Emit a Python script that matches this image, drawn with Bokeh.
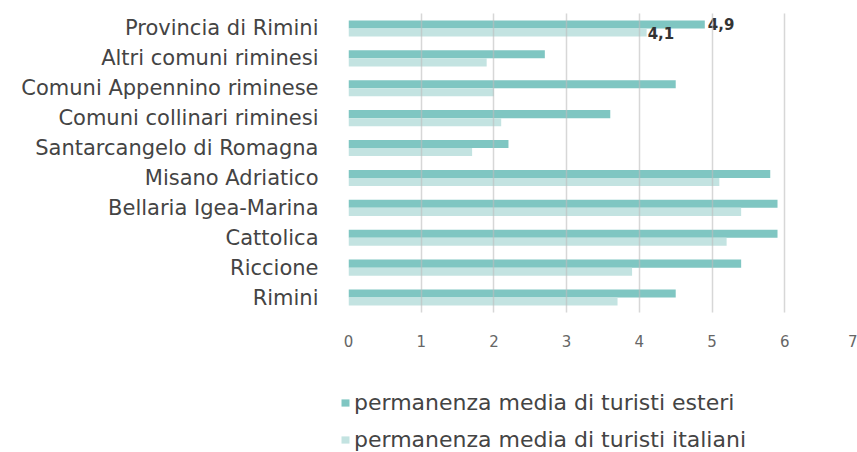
from bokeh.plotting import figure
from bokeh.layouts import column
from bokeh.models import ColumnDataSource, FactorRange, Legend, LegendItem, Range1d, FixedTicker
from bokeh.transform import dodge
from bokeh.core.properties import value
from bokeh.embed import file_html
from bokeh.resources import INLINE

categories = ["Provincia di Rimini", "Altri comuni riminesi", "Comuni Appennino riminese",
              "Comuni collinari riminesi", "Santarcangelo di Romagna", "Misano Adriatico",
              "Bellaria Igea-Marina", "Cattolica", "Riccione", "Rimini"]
esteri = [4.9, 2.7, 4.5, 3.6, 2.2, 5.8, 5.9, 5.9, 5.4, 4.5]
italiani = [4.1, 1.9, 2.0, 2.1, 1.7, 5.1, 5.4, 5.2, 3.9, 3.7]
x_ticks = [0, 1, 2, 3, 4, 5, 6, 7]
series_names = ["permanenza media di turisti esteri", "permanenza media di turisti italiani"]
labelled_category = "Provincia di Rimini"

FONT = "DejaVu Sans"
C_EST = "#7fc6c2"
C_ITA = "#c3e3e1"


def fmt(v):
    return f"{v:.1f}".replace(".", ",")


src = ColumnDataSource(dict(cat=categories, est=esteri, ita=italiani))

p = figure(frame_width=509, frame_height=299, output_backend="svg", toolbar_location=None,
           x_range=Range1d(0, 7.0), y_range=FactorRange(factors=list(reversed(categories))),
           min_border_left=348, min_border_top=13, min_border_bottom=40, min_border_right=0)
p.outline_line_color = None
p.background_fill_color = "white"
p.border_fill_color = "white"

p.hbar(y=dodge("cat", 0.135, range=p.y_range), right="est", left=0, height=0.27,
       fill_color=C_EST, line_color=None, source=src)
p.hbar(y=dodge("cat", -0.135, range=p.y_range), right="ita", left=0, height=0.27,
       fill_color=C_ITA, line_color=None, source=src)

i = categories.index(labelled_category)
p.text(x="x", y=dodge("cat", 0.16, range=p.y_range), text="txt",
       source=ColumnDataSource(dict(cat=[labelled_category], x=[esteri[i]], txt=[fmt(esteri[i])])),
       x_offset=3, text_baseline="middle", text_align="left", text_font=value(FONT),
       text_font_size="15px", text_font_style="bold", text_color="#333333")
p.text(x="x", y=dodge("cat", -0.15, range=p.y_range), text="txt",
       source=ColumnDataSource(dict(cat=[labelled_category], x=[italiani[i]], txt=[fmt(italiani[i])])),
       x_offset=1, text_baseline="middle", text_align="left", text_font=value(FONT),
       text_font_size="15px", text_font_style="bold", text_color="#333333")

p.xgrid.grid_line_color = "#bdbdbd"
p.xgrid.grid_line_alpha = 0.6
p.xgrid.grid_line_width = 1.5
p.xgrid.level = "overlay"
p.ygrid.grid_line_color = None

p.xaxis.ticker = FixedTicker(ticks=x_ticks)
p.xaxis.axis_line_color = None
p.xaxis.major_tick_line_color = None
p.xaxis.minor_tick_line_color = None
p.xaxis.major_label_text_font = FONT
p.xaxis.major_label_text_font_size = "15px"
p.xaxis.major_label_text_color = "#666666"
p.xaxis.major_label_standoff = 16

p.yaxis.axis_line_color = None
p.yaxis.major_tick_line_color = None
p.yaxis.minor_tick_line_color = None
p.yaxis.major_tick_out = 0
p.yaxis.major_label_text_font = FONT
p.yaxis.major_label_text_font_size = "21px"
p.yaxis.major_label_text_color = "#444444"
p.yaxis.major_label_standoff = 30

# legend strip below the chart (hidden proxy renderers of the same series)
lg = figure(frame_width=857, frame_height=100, output_backend="svg", toolbar_location=None,
            x_range=Range1d(0, 7.0), y_range=FactorRange(factors=list(reversed(categories))),
            x_axis_location=None, y_axis_location=None,
            min_border_left=0, min_border_right=0, min_border_top=0, min_border_bottom=0)
lg.outline_line_color = None
lg.xgrid.visible = False
lg.ygrid.visible = False
k_est = lg.hbar(y="cat", right="est", left=0, height=0.27, fill_color=C_EST, line_color=None,
                source=src, visible=False)
k_ita = lg.hbar(y="cat", right="ita", left=0, height=0.27, fill_color=C_ITA, line_color=None,
                source=src, visible=False)

legend = Legend(items=[LegendItem(label=series_names[0], renderers=[k_est]),
                       LegendItem(label=series_names[1], renderers=[k_ita])],
                location=(340, 0), orientation="vertical",
                glyph_width=10, glyph_height=9, label_standoff=4,
                label_text_font=FONT, label_text_font_size="22px", label_text_color="#444444",
                label_height=20, spacing=12, padding=0, margin=0,
                border_line_color=None, background_fill_alpha=0)
lg.add_layout(legend, "center")

layout = column(p, lg, spacing=0)
open("out.html", "w").write(file_html(layout, INLINE))
